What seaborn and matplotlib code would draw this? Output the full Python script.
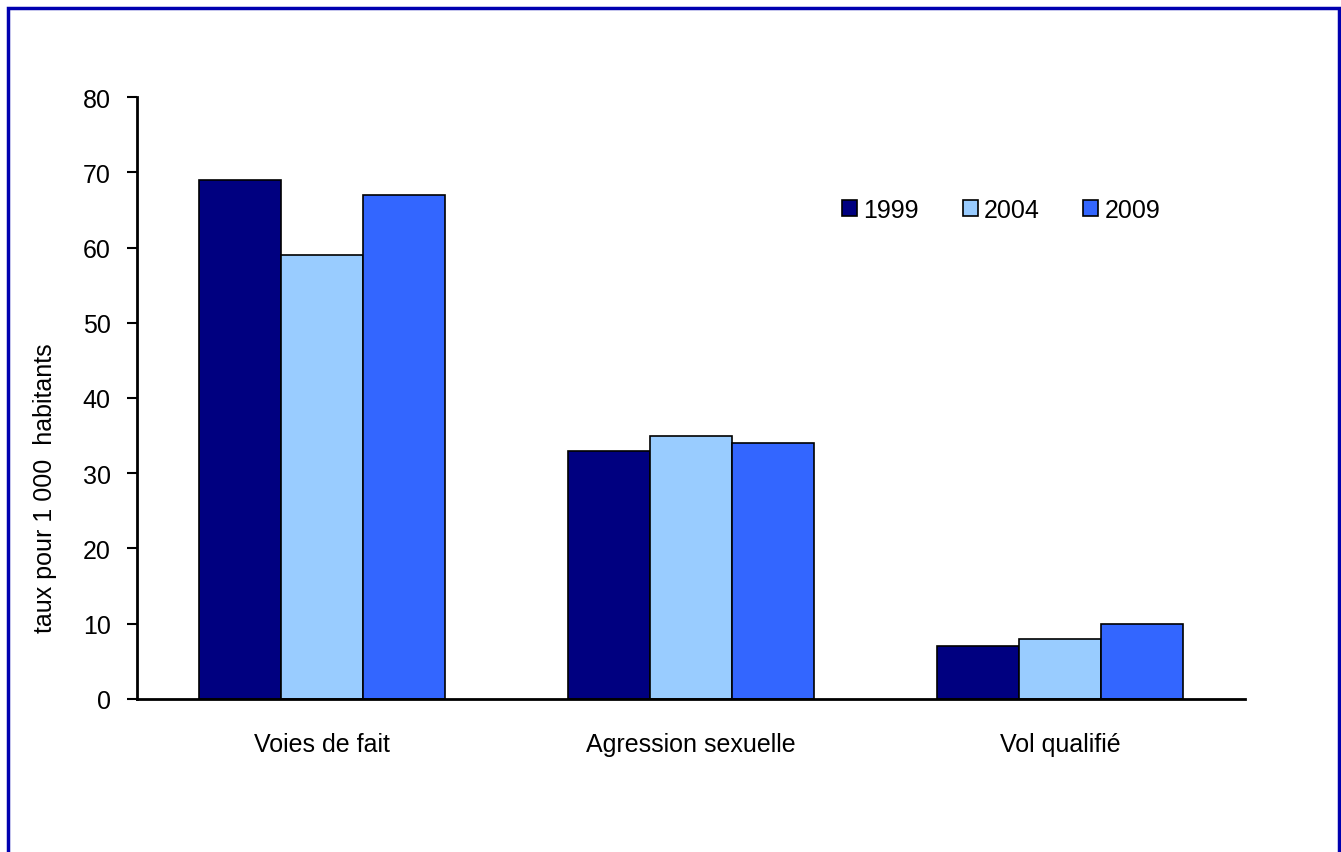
import matplotlib
matplotlib.use("Agg")
import matplotlib.pyplot as plt
from matplotlib.patches import Rectangle
import pandas as pd
import seaborn as sns

# Data
categories = ["Voies de fait", "Agression sexuelle", "Vol qualifié"]
years = ["1999", "2004", "2009"]
rates_1999 = [69, 33, 7]
rates_2004 = [59, 35, 8]
rates_2009 = [67, 34, 10]
colors = ["#000080", "#99CCFF", "#3366FF"]

rows = []
for year, vals in zip(years, [rates_1999, rates_2004, rates_2009]):
    for cat, v in zip(categories, vals):
        rows.append({"Catégorie": cat, "Année": year, "Taux": v})
df = pd.DataFrame(rows)

sns.set_theme(style="white")
plt.rcParams["font.family"] = ["Liberation Sans", "DejaVu Sans"]
plt.rcParams["text.color"] = "black"
plt.rcParams["axes.labelcolor"] = "black"
plt.rcParams["xtick.color"] = "black"
plt.rcParams["ytick.color"] = "black"

fs = 18

fig = plt.figure(figsize=(13.41, 8.53), dpi=100)
ax = fig.add_axes([0.1022, 0.1794, 0.8262, 0.7057])

sns.barplot(data=df, x="Catégorie", y="Taux", hue="Année", palette=colors,
            width=0.667, edgecolor="black", linewidth=1.2, saturation=1,
            ax=ax)

ax.set_ylim(0, 80)
ax.set_xlim(-0.5, 2.5)
ax.set_yticks(range(0, 81, 10))
ax.set_xlabel("")
ax.set_ylabel("taux pour 1 000  habitants", fontsize=fs)
ax.yaxis.set_label_coords(-0.072, 0.352)
ax.tick_params(axis="y", which="both", left=True, direction="out",
               length=7, width=1.5, labelsize=fs, pad=12)
ax.tick_params(axis="x", bottom=False, labelsize=fs, pad=18)
for s in ["top", "right"]:
    ax.spines[s].set_visible(False)
for s in ["left", "bottom"]:
    ax.spines[s].set_linewidth(2)
    ax.spines[s].set_color("black")

leg = ax.legend(loc="center", bbox_to_anchor=(0.780, 0.812), ncol=3,
                frameon=False, fontsize=fs, handlelength=0.6,
                handleheight=0.6, handletextpad=0.25, columnspacing=1.75)

# outer blue frame
fig.patches.append(Rectangle((8 / 1341, -0.05), 1331 / 1341, 1.05 - 9 / 853,
                             transform=fig.transFigure, fill=False,
                             edgecolor="#0000B0", linewidth=2.5,
                             clip_on=False))

fig.savefig("out.png", dpi=100, facecolor="white")
